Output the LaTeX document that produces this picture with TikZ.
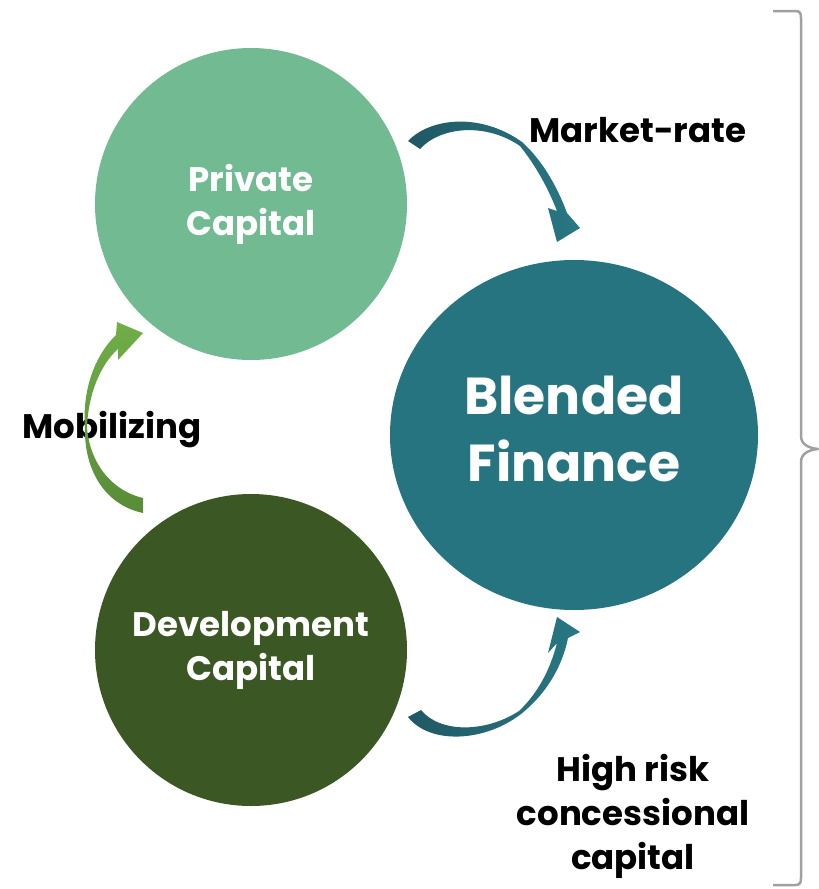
\documentclass[tikz,border=0pt]{standalone}
\usepackage{fontspec}
\setmainfont{Poppins}
\usetikzlibrary{shapes.geometric}
\definecolor{privc}{RGB}{114,186,146}
\definecolor{devc}{RGB}{59,87,36}
\definecolor{blendc}{RGB}{38,116,128}
\definecolor{tealdark}{RGB}{32,88,100}
\definecolor{teallight}{RGB}{40,120,132}
\definecolor{greenlight}{RGB}{112,174,72}
\definecolor{greendark}{RGB}{88,140,56}
\definecolor{bracec}{RGB}{160,160,160}
\begin{document}
\begin{tikzpicture}[x=1pt,y=-1pt,
  bubble/.style={circle,inner sep=0pt,text=white,align=center,font=\bfseries\fontsize{34}{44}\selectfont},
  lab/.style={inner sep=0pt,text=black,align=center,font=\bfseries\fontsize{34}{44}\selectfont}]
\useasboundingbox (0,0) rectangle (819,889);
% circles
\node[bubble,fill=privc,minimum size=312pt] (priv) at (251,204) {Private\\Capital};
\node[bubble,fill=devc,minimum size=312pt] (dev) at (251,650) {Development\\Capital};
\node[ellipse,fill=blendc,minimum width=368pt,minimum height=350pt] (blend) at (574,435) {};
\node[inner sep=0pt,text=white,align=center,font=\bfseries\fontsize{52}{67}\selectfont] (blendtxt) at (574,429) {Blended\\Finance};
% labels
\node[lab] (mr) at (638,130) {Market-rate};
\node[lab] (mob) at (112,430) {Mobilizing};
\node[lab] (hr) at (633,816) {High risk\\concessional\\capital};
% top arrow (market-rate)
\shade[left color=tealdark,right color=teallight]
  (408,141) .. controls (430,118) and (480,112) .. (522,142)
  .. controls (542,160) and (557,186) .. (567,213)
  -- (580,228) -- (557,242) -- (548,208) -- (557,211)
  .. controls (548,188) and (536,166) .. (520,146)
  .. controls (485,122) and (440,127) .. (420,149) -- cycle;
% bottom arrow (high risk)
\shade[left color=tealdark,right color=teallight]
  (408,717) .. controls (430,745) and (485,742) .. (521,714)
  .. controls (545,695) and (562,668) .. (568,638)
  -- (580,632) -- (557,617) -- (548,653) -- (557,643)
  .. controls (550,670) and (538,693) .. (519,711)
  .. controls (485,733) and (440,733) .. (421,710) -- cycle;
% green arrow (mobilizing)
\shade[top color=greenlight,bottom color=greendark]
  (143,498) .. controls (110,490) and (90,462) .. (87,428)
  .. controls (88,395) and (100,365) .. (118,349)
  -- (118,360) -- (143,333) -- (117,322) -- (116,335)
  .. controls (95,355) and (82,390) .. (85,428)
  .. controls (84,470) and (105,505) .. (143,513) -- cycle;
% brace
\draw[bracec,line width=2.5pt,line join=round]
  (773,11) -- (795,11) .. controls (800,11) and (801,13) .. (801,18)
  -- (801,436) .. controls (801,444) and (808,448) .. (818,449)
  .. controls (808,450) and (801,454) .. (801,462)
  -- (801,878) .. controls (801,883) and (800,885) .. (795,885) -- (773,885);
\end{tikzpicture}
\end{document}
